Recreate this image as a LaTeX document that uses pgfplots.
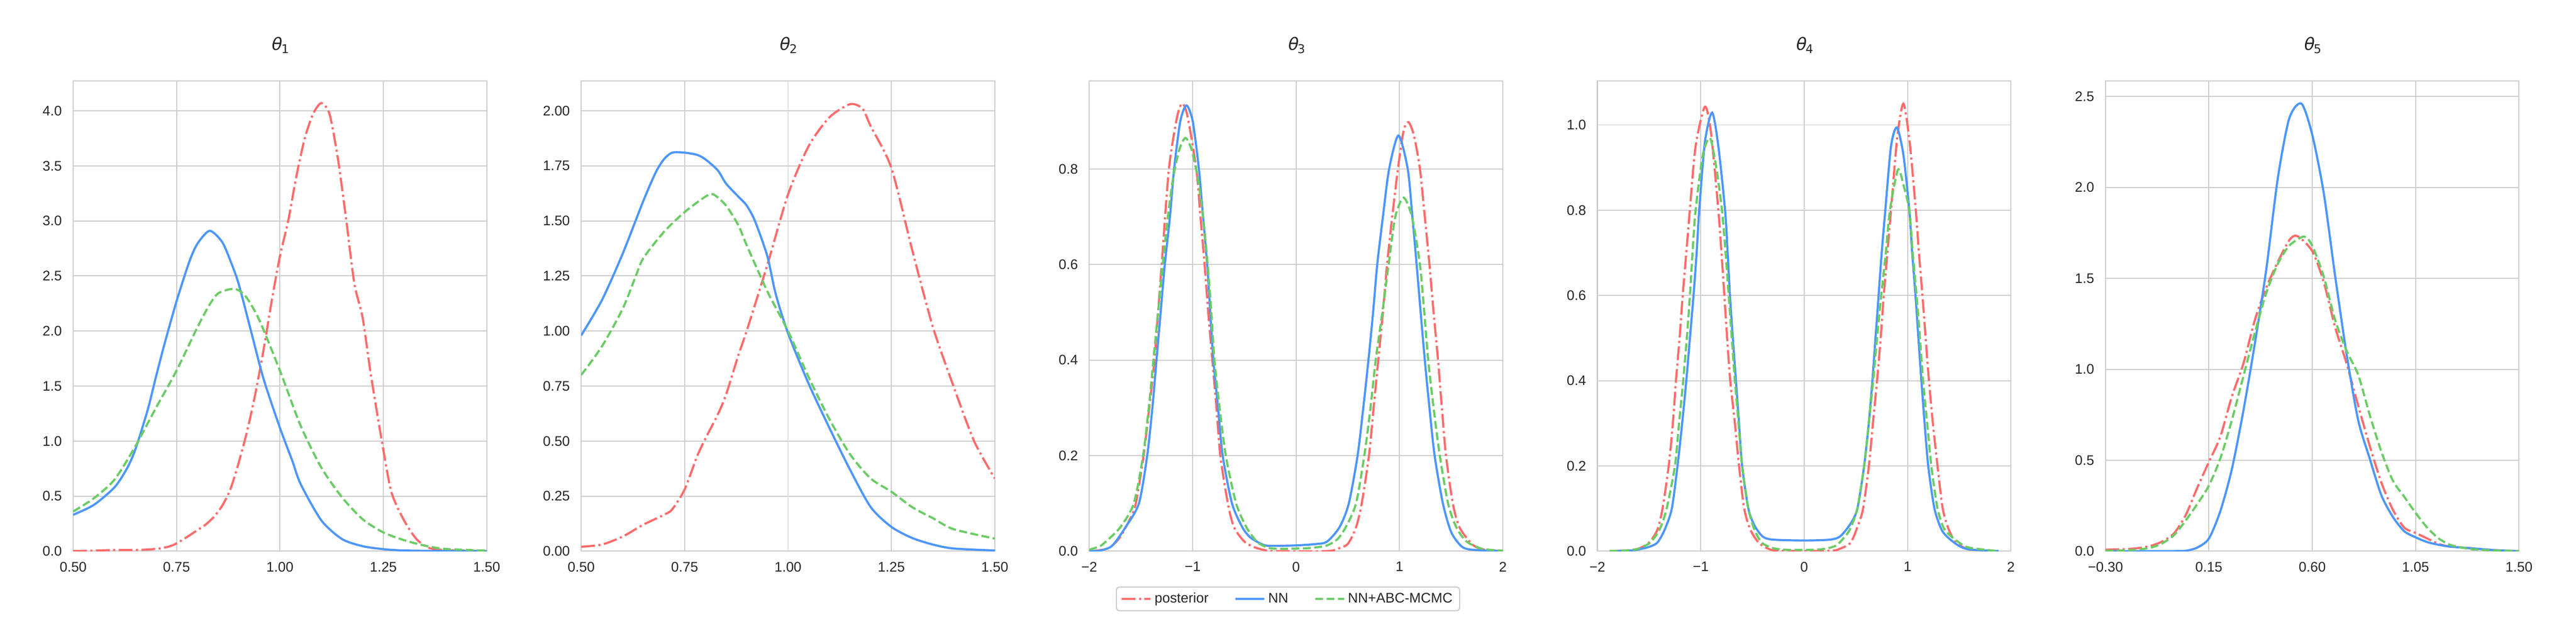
\documentclass[border=0pt]{standalone}
\usepackage{fontspec}
\setmainfont{Liberation Sans}
\newfontfamily\dejavu{DejaVu Sans}
\newfontfamily\dejavuit[FakeSlant=0.2]{DejaVu Sans}
\usepackage{pgfplots}
\pgfplotsset{compat=1.18}
\definecolor{cred}{HTML}{FF6B6B}
\definecolor{cblue}{HTML}{4C96FF}
\definecolor{cgreen}{HTML}{6ACC65}
\definecolor{gridgray}{HTML}{CCCCCC}
\definecolor{labelgray}{HTML}{262626}
\newcommand{\ttl}[1]{{\color{labelgray}\fontsize{12}{14}\selectfont\dejavuit θ\raisebox{-1.9pt}{\dejavu\fontsize{8.4}{10}\selectfont #1}}}
\pgfplotsset{
  myax/.style={
    scale only axis, width=288.96pt, height=328.32pt, anchor=south west,
    enlargelimits=false, clip=true,
    axis line style={draw=gridgray, line width=0.8pt},
    grid=major, major grid style={draw=gridgray, line width=0.7pt},
    major tick length=0pt, tick style={draw=none},
    ticklabel style={font=\fontsize{9.7}{11}\selectfont, text=labelgray},
    xticklabel style={anchor=north, inner sep=0pt, yshift=-7.4pt},
    yticklabel style={anchor=east, inner sep=0pt, xshift=-7.7pt},
    title style={at={(0.5,1)}, anchor=base, yshift=15.4pt, inner sep=0pt},
    every axis plot/.append style={no markers, smooth, tension=0.45},
  },
  postst/.style={cred, line width=1.5pt, dash pattern=on 9.6pt off 2.4pt on 1.5pt off 2.4pt},
  nnst/.style={cblue, line width=1.5pt},
  abcst/.style={cgreen, line width=1.5pt, dash pattern=on 5.55pt off 2.4pt},
}
\begin{document}
\begin{tikzpicture}
\path[use as bounding box] (0,0) rectangle (1800pt,432pt);
% ---------------- theta 1
\begin{axis}[myax, at={(51.12pt,47.04pt)}, xmin=0.5, xmax=1.5, ymin=0, ymax=4.27,
  xtick={0.5,0.75,1,1.25,1.5}, xticklabels={0.50,0.75,1.00,1.25,1.50},
  ytick={0,0.5,1,1.5,2,2.5,3,3.5,4}, yticklabels={0.0,0.5,1.0,1.5,2.0,2.5,3.0,3.5,4.0},
  title={\ttl{1}}]
\addplot[postst] coordinates {(0.50,0.00)(0.55,0.005)(0.60,0.01)(0.65,0.01)(0.70,0.02)(0.73,0.04)(0.75,0.07)(0.78,0.14)(0.80,0.19)(0.82,0.24)(0.84,0.31)(0.86,0.41)(0.88,0.56)(0.90,0.80)(0.92,1.08)(0.94,1.42)(0.96,1.82)(0.98,2.27)(1.00,2.68)(1.02,3.00)(1.04,3.41)(1.06,3.75)(1.08,3.97)(1.10,4.07)(1.12,3.97)(1.14,3.57)(1.16,3.02)(1.18,2.43)(1.20,2.12)(1.22,1.60)(1.25,0.92)(1.27,0.53)(1.30,0.28)(1.33,0.11)(1.36,0.03)(1.40,0.01)(1.45,0.005)(1.50,0.0)};
\addplot[nnst] coordinates {(0.50,0.33)(0.55,0.42)(0.60,0.58)(0.63,0.75)(0.65,0.92)(0.68,1.28)(0.70,1.58)(0.72,1.87)(0.75,2.27)(0.78,2.62)(0.80,2.79)(0.83,2.91)(0.86,2.81)(0.88,2.64)(0.90,2.43)(0.93,2.00)(0.96,1.57)(1.00,1.12)(1.03,0.82)(1.05,0.61)(1.10,0.28)(1.15,0.11)(1.20,0.045)(1.25,0.018)(1.30,0.006)(1.40,0.001)(1.50,0.0)};
\addplot[abcst] coordinates {(0.50,0.36)(0.55,0.48)(0.60,0.65)(0.65,0.95)(0.70,1.30)(0.75,1.64)(0.80,2.03)(0.83,2.24)(0.85,2.34)(0.88,2.38)(0.90,2.37)(0.92,2.30)(0.95,2.10)(1.00,1.64)(1.05,1.14)(1.10,0.76)(1.15,0.49)(1.20,0.29)(1.25,0.17)(1.30,0.10)(1.35,0.05)(1.40,0.02)(1.50,0.005)};
\end{axis}
% ---------------- theta 2
\begin{axis}[myax, at={(406.14pt,47.04pt)}, xmin=0.5, xmax=1.5, ymin=0, ymax=2.135,
  xtick={0.5,0.75,1,1.25,1.5}, xticklabels={0.50,0.75,1.00,1.25,1.50},
  ytick={0,0.25,0.5,0.75,1,1.25,1.5,1.75,2}, yticklabels={0.00,0.25,0.50,0.75,1.00,1.25,1.50,1.75,2.00},
  title={\ttl{2}}]
\addplot[postst] coordinates {(0.50,0.02)(0.55,0.03)(0.60,0.066)(0.65,0.12)(0.70,0.165)(0.72,0.19)(0.75,0.28)(0.78,0.43)(0.80,0.51)(0.83,0.62)(0.85,0.71)(0.88,0.89)(0.90,1.00)(0.95,1.30)(1.00,1.62)(1.05,1.84)(1.10,1.97)(1.15,2.03)(1.18,2.01)(1.20,1.93)(1.25,1.74)(1.30,1.37)(1.35,1.02)(1.40,0.75)(1.45,0.50)(1.50,0.33)};
\addplot[nnst] coordinates {(0.50,0.98)(0.55,1.14)(0.60,1.35)(0.65,1.59)(0.68,1.72)(0.70,1.78)(0.72,1.81)(0.75,1.81)(0.78,1.80)(0.80,1.78)(0.83,1.73)(0.85,1.67)(0.88,1.61)(0.90,1.57)(0.92,1.50)(0.95,1.34)(0.97,1.17)(1.00,0.99)(1.05,0.76)(1.10,0.56)(1.15,0.37)(1.20,0.20)(1.25,0.11)(1.30,0.06)(1.35,0.03)(1.40,0.012)(1.50,0.003)};
\addplot[abcst] coordinates {(0.50,0.80)(0.55,0.93)(0.60,1.10)(0.63,1.24)(0.65,1.33)(0.70,1.45)(0.75,1.54)(0.80,1.61)(0.82,1.62)(0.85,1.57)(0.88,1.48)(0.90,1.39)(0.95,1.18)(1.00,1.00)(1.05,0.79)(1.10,0.60)(1.15,0.44)(1.20,0.33)(1.25,0.27)(1.30,0.20)(1.35,0.15)(1.40,0.10)(1.50,0.057)};
\end{axis}
% ---------------- theta 3
\begin{axis}[myax, at={(761.16pt,47.04pt)}, xmin=-2, xmax=2, ymin=0, ymax=0.984,
  xtick={-2,-1,0,1,2}, xticklabels={−2,−1,0,1,2},
  ytick={0,0.2,0.4,0.6,0.8}, yticklabels={0.0,0.2,0.4,0.6,0.8},
  title={\ttl{3}},
  legend columns=3, legend cell align=left,
  legend image code/.code={\draw[#1] (0pt,0pt) -- (20.2pt,0pt);},
  legend style={at={(0.4805,-0.1016)}, anchor=center, draw=gridgray, line width=0.8pt,
    rounded corners=2pt, fill=white, font=\fontsize{9.7}{11}\selectfont, text=labelgray,
    inner xsep=3pt, inner ysep=2pt,
    /tikz/every even column/.append style={column sep=16pt}}]
\addplot[postst] coordinates {(-2.00,0.000)(-1.90,0.002)(-1.80,0.008)(-1.70,0.03)(-1.60,0.07)(-1.55,0.10)(-1.475,0.20)(-1.42,0.30)(-1.37,0.40)(-1.335,0.50)(-1.30,0.60)(-1.23,0.80)(-1.15,0.91)(-1.10,0.937)(-1.05,0.91)(-0.965,0.80)(-0.925,0.70)(-0.885,0.60)(-0.85,0.50)(-0.81,0.40)(-0.77,0.30)(-0.733,0.20)(-0.66,0.10)(-0.60,0.05)(-0.50,0.02)(-0.40,0.008)(-0.30,0.002)(-0.20,0.0)(0.30,0.0)(0.40,0.005)(0.50,0.015)(0.58,0.05)(0.635,0.10)(0.705,0.20)(0.75,0.30)(0.795,0.40)(0.84,0.50)(0.88,0.60)(0.93,0.70)(0.985,0.80)(1.04,0.88)(1.087,0.898)(1.14,0.87)(1.198,0.80)(1.245,0.70)(1.29,0.60)(1.33,0.50)(1.373,0.40)(1.41,0.30)(1.45,0.20)(1.516,0.10)(1.58,0.05)(1.70,0.015)(1.80,0.004)(2.00,0.0)};
\addlegendentry{posterior}
\addplot[nnst] coordinates {(-2.00,0.000)(-1.90,0.001)(-1.80,0.008)(-1.745,0.02)(-1.65,0.05)(-1.52,0.10)(-1.44,0.20)(-1.39,0.30)(-1.35,0.40)(-1.31,0.50)(-1.27,0.60)(-1.22,0.70)(-1.18,0.80)(-1.12,0.90)(-1.06,0.933)(-1.00,0.90)(-0.94,0.80)(-0.90,0.70)(-0.86,0.60)(-0.83,0.50)(-0.80,0.40)(-0.755,0.30)(-0.71,0.20)(-0.62,0.10)(-0.52,0.05)(-0.45,0.03)(-0.38,0.02)(-0.30,0.012)(-0.20,0.011)(0.00,0.012)(0.20,0.015)(0.30,0.020)(0.42,0.05)(0.51,0.10)(0.595,0.20)(0.65,0.30)(0.70,0.40)(0.745,0.50)(0.785,0.60)(0.84,0.70)(0.90,0.80)(0.99,0.87)(1.08,0.80)(1.125,0.70)(1.166,0.60)(1.205,0.50)(1.245,0.40)(1.29,0.30)(1.34,0.20)(1.42,0.10)(1.50,0.04)(1.60,0.01)(1.70,0.003)(2.00,0.0)};
\addlegendentry{NN}
\addplot[abcst] coordinates {(-2.00,0.003)(-1.90,0.01)(-1.84,0.02)(-1.70,0.05)(-1.57,0.10)(-1.48,0.20)(-1.425,0.30)(-1.38,0.40)(-1.335,0.50)(-1.29,0.60)(-1.24,0.70)(-1.19,0.78)(-1.13,0.84)(-1.07,0.865)(-1.01,0.84)(-0.95,0.78)(-0.90,0.70)(-0.855,0.60)(-0.82,0.50)(-0.79,0.40)(-0.74,0.30)(-0.68,0.20)(-0.58,0.10)(-0.48,0.05)(-0.40,0.025)(-0.35,0.015)(-0.25,0.006)(-0.10,0.005)(0.10,0.006)(0.20,0.008)(0.30,0.012)(0.40,0.025)(0.48,0.05)(0.58,0.10)(0.66,0.20)(0.72,0.30)(0.77,0.40)(0.835,0.50)(0.895,0.60)(0.96,0.70)(1.04,0.74)(1.12,0.70)(1.198,0.60)(1.24,0.50)(1.278,0.40)(1.33,0.30)(1.39,0.20)(1.47,0.10)(1.55,0.05)(1.65,0.02)(1.80,0.005)(2.00,0.001)};
\addlegendentry{NN+ABC-MCMC}
\end{axis}
% ---------------- theta 4
\begin{axis}[myax, at={(1116.18pt,47.04pt)}, xmin=-2, xmax=2, ymin=0, ymax=1.103,
  xtick={-2,-1,0,1,2}, xticklabels={−2,−1,0,1,2},
  ytick={0,0.2,0.4,0.6,0.8,1}, yticklabels={0.0,0.2,0.4,0.6,0.8,1.0},
  title={\ttl{4}}]
\addplot[postst] coordinates {(-1.88,0.0)(-1.70,0.002)(-1.60,0.006)(-1.50,0.02)(-1.42,0.05)(-1.37,0.10)(-1.31,0.20)(-1.27,0.30)(-1.24,0.40)(-1.205,0.50)(-1.175,0.60)(-1.14,0.70)(-1.106,0.80)(-1.05,0.95)(-0.96,1.043)(-0.90,0.98)(-0.83,0.80)(-0.80,0.70)(-0.772,0.60)(-0.745,0.50)(-0.715,0.40)(-0.67,0.30)(-0.63,0.20)(-0.58,0.10)(-0.52,0.05)(-0.44,0.02)(-0.35,0.006)(-0.25,0.001)(0.25,0.001)(0.35,0.006)(0.45,0.02)(0.52,0.06)(0.57,0.10)(0.626,0.20)(0.665,0.30)(0.705,0.40)(0.74,0.50)(0.77,0.60)(0.805,0.70)(0.84,0.80)(0.90,0.97)(0.96,1.05)(1.02,0.96)(1.08,0.80)(1.11,0.70)(1.144,0.60)(1.175,0.50)(1.207,0.40)(1.245,0.30)(1.29,0.20)(1.34,0.10)(1.40,0.05)(1.47,0.02)(1.60,0.004)(1.88,0.0)};
\addplot[nnst] coordinates {(-1.88,0.0)(-1.70,0.001)(-1.60,0.004)(-1.50,0.01)(-1.42,0.02)(-1.35,0.05)(-1.28,0.10)(-1.225,0.20)(-1.18,0.30)(-1.14,0.40)(-1.105,0.50)(-1.07,0.60)(-1.04,0.70)(-1.015,0.80)(-0.96,0.96)(-0.89,1.029)(-0.83,0.95)(-0.765,0.80)(-0.74,0.70)(-0.718,0.60)(-0.69,0.50)(-0.66,0.40)(-0.63,0.30)(-0.60,0.20)(-0.54,0.10)(-0.48,0.06)(-0.40,0.034)(-0.30,0.027)(0.00,0.025)(0.25,0.027)(0.35,0.035)(0.45,0.065)(0.515,0.10)(0.58,0.20)(0.625,0.30)(0.66,0.40)(0.69,0.50)(0.72,0.60)(0.75,0.70)(0.785,0.80)(0.84,0.95)(0.897,0.994)(0.96,0.93)(1.017,0.80)(1.045,0.70)(1.077,0.60)(1.105,0.50)(1.134,0.40)(1.165,0.30)(1.20,0.20)(1.26,0.10)(1.33,0.05)(1.40,0.03)(1.50,0.012)(1.60,0.004)(1.88,0.0)};
\addplot[abcst] coordinates {(-1.88,0.0)(-1.70,0.002)(-1.60,0.006)(-1.49,0.02)(-1.40,0.05)(-1.33,0.10)(-1.25,0.20)(-1.21,0.30)(-1.17,0.40)(-1.135,0.50)(-1.105,0.60)(-1.08,0.70)(-1.05,0.80)(-0.98,0.93)(-0.91,0.969)(-0.85,0.90)(-0.795,0.80)(-0.76,0.70)(-0.73,0.60)(-0.70,0.50)(-0.67,0.40)(-0.635,0.30)(-0.60,0.20)(-0.54,0.10)(-0.48,0.05)(-0.41,0.02)(-0.30,0.007)(-0.15,0.003)(0.15,0.004)(0.30,0.012)(0.38,0.03)(0.44,0.05)(0.515,0.10)(0.58,0.20)(0.625,0.30)(0.667,0.40)(0.705,0.50)(0.745,0.60)(0.79,0.70)(0.83,0.80)(0.907,0.895)(0.96,0.86)(1.017,0.80)(1.05,0.70)(1.087,0.60)(1.12,0.50)(1.15,0.40)(1.19,0.30)(1.23,0.20)(1.29,0.10)(1.36,0.05)(1.50,0.02)(1.60,0.008)(1.88,0.0)};
\end{axis}
% ---------------- theta 5
\begin{axis}[myax, at={(1471.2pt,47.04pt)}, xmin=-0.3, xmax=1.5, ymin=0, ymax=2.585,
  xtick={-0.3,0.15,0.6,1.05,1.5}, xticklabels={−0.30,0.15,0.60,1.05,1.50},
  ytick={0,0.5,1,1.5,2,2.5}, yticklabels={0.0,0.5,1.0,1.5,2.0,2.5},
  title={\ttl{5}}]
\addplot[postst] coordinates {(-0.30,0.008)(-0.20,0.012)(-0.15,0.018)(-0.10,0.03)(-0.05,0.055)(0.00,0.10)(0.05,0.20)(0.10,0.35)(0.15,0.49)(0.20,0.63)(0.25,0.85)(0.30,1.03)(0.35,1.27)(0.40,1.45)(0.45,1.59)(0.50,1.71)(0.535,1.733)(0.60,1.65)(0.65,1.48)(0.70,1.23)(0.75,1.03)(0.80,0.80)(0.85,0.58)(0.90,0.38)(0.95,0.23)(1.00,0.13)(1.05,0.10)(1.10,0.07)(1.15,0.04)(1.20,0.025)(1.30,0.015)(1.40,0.005)(1.50,0.0)};
\addplot[nnst] coordinates {(-0.30,0.0)(0.00,0.0)(0.05,0.002)(0.10,0.02)(0.15,0.069)(0.20,0.22)(0.25,0.45)(0.30,0.77)(0.35,1.14)(0.40,1.55)(0.45,2.05)(0.50,2.38)(0.553,2.461)(0.60,2.29)(0.65,1.97)(0.70,1.51)(0.75,1.08)(0.80,0.72)(0.85,0.51)(0.90,0.31)(0.95,0.19)(1.00,0.11)(1.05,0.076)(1.10,0.05)(1.15,0.035)(1.20,0.025)(1.30,0.015)(1.40,0.005)(1.50,0.0)};
\addplot[abcst] coordinates {(-0.30,0.002)(-0.20,0.005)(-0.15,0.01)(-0.10,0.02)(-0.05,0.045)(0.00,0.09)(0.05,0.17)(0.10,0.26)(0.15,0.36)(0.20,0.51)(0.25,0.72)(0.30,0.96)(0.35,1.20)(0.40,1.42)(0.45,1.58)(0.50,1.68)(0.564,1.73)(0.60,1.68)(0.65,1.51)(0.70,1.27)(0.75,1.10)(0.80,0.97)(0.85,0.75)(0.90,0.55)(0.95,0.39)(1.00,0.30)(1.05,0.21)(1.10,0.13)(1.15,0.07)(1.20,0.035)(1.25,0.02)(1.30,0.01)(1.40,0.003)(1.50,0.0)};
\end{axis}
\end{tikzpicture}
\end{document}
